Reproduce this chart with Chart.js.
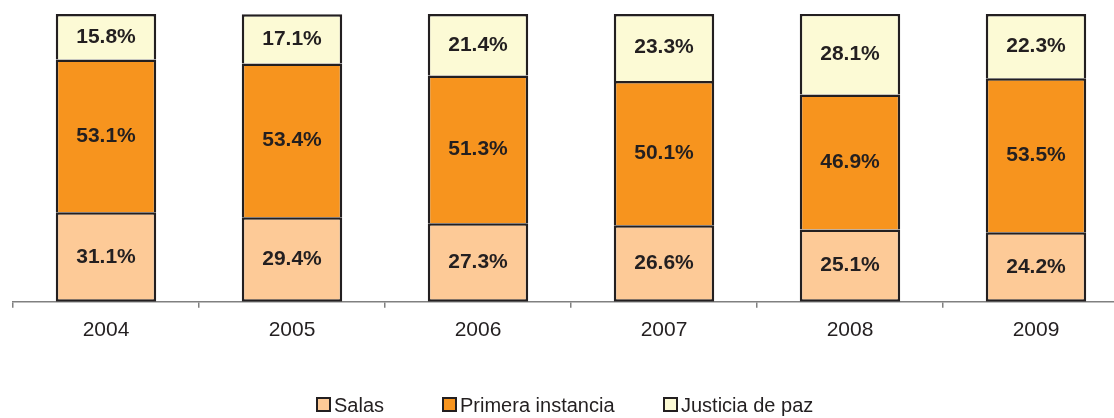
<!DOCTYPE html>
<html>
<head>
<meta charset="utf-8">
<script src="https://cdn.jsdelivr.net/npm/chart.js@4.4.0/dist/chart.umd.min.js"></script>
<style>
  body { margin: 0; overflow: hidden; background: #fff; font-family: "Liberation Sans", Arial, sans-serif; }
  #wrap { position: relative; width: 1130px; height: 418px; }
  #legend { position: absolute; top: 394px; left: 0; width: 1114px; height: 24px; color: #231F20; font-size: 20px; }
  .item { position: absolute; top: 0; white-space: nowrap; }
  .box { display: inline-block; width: 11px; height: 11px; border: 2px solid #231F20; margin-right: 3px; vertical-align: 0px; }
</style>
</head>
<body>
<div id="wrap">
  <canvas id="chart" width="1130" height="418"></canvas>
  <div id="legend"></div>
</div>
<script>
// categories and series (percent)
const years = ['2004', '2005', '2006', '2007', '2008', '2009'];
const salas = [31.1, 29.4, 27.3, 26.6, 25.1, 24.2];
const primera = [53.1, 53.4, 51.3, 50.1, 46.9, 53.5];
const justicia = [15.8, 17.1, 21.4, 23.3, 28.1, 22.3];

const seriesNames = ['Salas', 'Primera instancia', 'Justicia de paz'];
const seriesColors = ['#FDCA97', '#F7941E', '#FCFAD5'];
const legendLeft = [316, 442, 663];

// draw the percentage labels in the middle of each segment
const segmentLabels = {
  id: 'segmentLabels',
  afterDatasetsDraw(chart) {
    const ctx = chart.ctx;
    ctx.save();
    ctx.font = 'bold 21px "Liberation Sans", Arial, sans-serif';
    ctx.fillStyle = '#231F20';
    ctx.textAlign = 'center';
    ctx.textBaseline = 'middle';
    chart.data.datasets.forEach((ds, i) => {
      chart.getDatasetMeta(i).data.forEach((bar, j) => {
        const p = bar.getProps(['x', 'y', 'base'], true);
        ctx.fillText(ds.data[j].toFixed(1) + '%', p.x, (p.y + p.base) / 2);
      });
    });
    ctx.restore();
  }
};

// only the lowest segment keeps its bottom edge, so shared edges are drawn once
const datasets = [salas, primera, justicia].map((vals, i) => ({
  label: seriesNames[i],
  data: vals,
  backgroundColor: seriesColors[i],
  borderColor: '#231F20',
  borderWidth: { top: 2.5, left: 2.5, right: 2.5, bottom: i === 0 ? 2.5 : 0 },
  borderSkipped: false,
  barPercentage: 0.54,
  categoryPercentage: 1
}));

new Chart(document.getElementById('chart'), {
  type: 'bar',
  data: { labels: years, datasets: datasets },
  options: {
    responsive: false,
    animation: false,
    layout: { padding: { left: 13, right: 1, top: 14, bottom: 65 } },
    plugins: { legend: { display: false }, tooltip: { enabled: false } },
    scales: {
      x: {
        stacked: true,
        grid: { offset: true, drawOnChartArea: false, tickLength: 6, color: '#808080', lineWidth: 1.5 },
        border: { color: '#808080', width: 1.5 },
        ticks: { color: '#231F20', font: { size: 21, family: '"Liberation Sans", Arial, sans-serif' }, padding: 10 }
      },
      y: {
        stacked: true,
        display: false,
        min: 0,
        max: 100
      }
    }
  },
  plugins: [segmentLabels]
});

// legend
const legend = document.getElementById('legend');
seriesNames.forEach((name, i) => {
  const el = document.createElement('span');
  el.className = 'item';
  el.style.left = legendLeft[i] + 'px';
  el.innerHTML = '<span class="box" style="background:' + seriesColors[i] + '"></span>' + name;
  legend.appendChild(el);
});
</script>
</body>
</html>
